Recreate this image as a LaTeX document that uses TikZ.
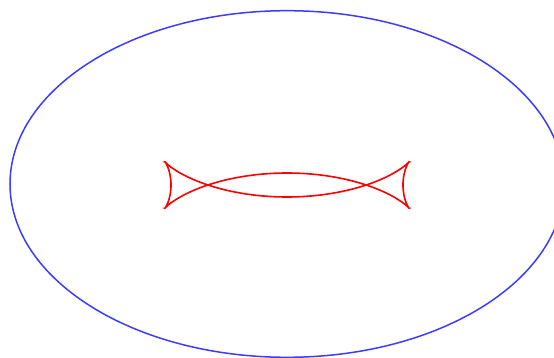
\documentclass[tikz,border=0pt]{standalone}
\begin{document}
\begin{tikzpicture}[x=10pt,y=-10pt,
  outer/.style={draw={rgb,255:red,60;green,60;blue,255},line width=1.5pt},
  inner/.style={draw=red,line width=1.6pt,line join=miter}]
\useasboundingbox (0,0) rectangle (55.4,35.8);
\clip (0,0) rectangle (55.4,35.8);
\draw[outer] (28.7,18.4) ellipse [x radius=27.7, y radius=17.33];
\draw[inner] plot[domain=0:360,samples=1441,variable=\t]
  ({28.7+cos(\t)*(27.7-16.1*17.3/sqrt(17.3*17.3*cos(\t)*cos(\t)+27.7*27.7*sin(\t)*sin(\t)))},
   {18.5+sin(\t)*(17.3-16.1*27.7/sqrt(17.3*17.3*cos(\t)*cos(\t)+27.7*27.7*sin(\t)*sin(\t)))}) -- cycle;
\end{tikzpicture}
\end{document}
